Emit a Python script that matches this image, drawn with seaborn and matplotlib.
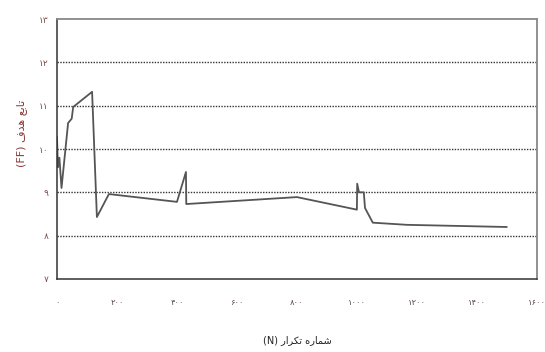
import matplotlib
matplotlib.use("Agg")
import matplotlib.pyplot as plt
import seaborn as sns
import pandas as pd

# iteration number and objective function values
n_iter = [0, 3, 8, 15, 37, 49, 54, 117, 133, 173, 400, 430, 431,
          800, 1000, 1001, 1007, 1023, 1027, 1053, 1167, 1500]
ff = [10.28, 9.58, 9.8, 9.1, 10.6, 10.7, 10.97, 11.32, 8.43, 8.96, 8.78, 9.47, 8.73,
      8.89, 8.6, 9.2, 9.0, 9.0, 8.64, 8.3, 8.25, 8.2]

fa = "۰۱۲۳۴۵۶۷۸۹"
def fa_num(v):
    return "".join(fa[int(c)] for c in str(v))

x_ticks = [0, 200, 400, 600, 800, 1000, 1200, 1400, 1600]
y_ticks = [7, 8, 9, 10, 11, 12, 13]

# Persian labels in presentation forms, visual (left to right) order
x_label = "(N) \uFEAD\uFE8D\uFEAE\uFB91\uFE97 \uFEE9\uFEAD\uFE8E\uFEE4\uFEB7"
y_label = "(FF) \uFED1\uFEAA\uFEEB \uFECA\uFE91\uFE8E\uFE97"

df = pd.DataFrame({"N": n_iter, "FF": ff})

sns.set_style("white")
plt.rcParams["font.family"] = ["DejaVu Sans"]

fig = plt.figure(figsize=(5.45, 3.52), dpi=100)
ax = fig.add_axes([0.1046, 0.2074, 0.8804, 0.7386])

sns.lineplot(data=df, x="N", y="FF", ax=ax, sort=False, estimator=None,
             color="#555555", linewidth=1.3)

ax.set_xlim(0, 1600)
ax.set_ylim(7, 13)
ax.set_xticks(x_ticks)
ax.set_xticklabels([fa_num(v) for v in x_ticks], fontsize=6, color="#5a4a4a")
ax.set_yticks(y_ticks)
ax.set_yticklabels([fa_num(v) for v in y_ticks], fontsize=6.5, color="#7a4a4a")

for v in y_ticks[1:-1]:
    ax.axhline(v, color="#333333", linestyle=(0, (1.0, 1.0)), linewidth=1.0, zorder=0)

for side in ["left", "bottom"]:
    ax.spines[side].set_color("#333333")
    ax.spines[side].set_linewidth(1.1)
for side in ["top", "right"]:
    ax.spines[side].set_color("#888888")
    ax.spines[side].set_linewidth(1.3)

ax.tick_params(axis="y", direction="inout", length=6, width=1, color="#333333", pad=3)
ax.tick_params(axis="x", direction="out", length=4, width=1, color="#333333", pad=10)

ax.set_xlabel(x_label, fontsize=7, color="#222222")
ax.xaxis.set_label_coords(0.5, -0.215)
ax.set_ylabel(y_label, fontsize=8, color="#8a3a3a")
ax.yaxis.set_label_coords(-0.062, 0.56)

fig.savefig("out.png", dpi=100)
